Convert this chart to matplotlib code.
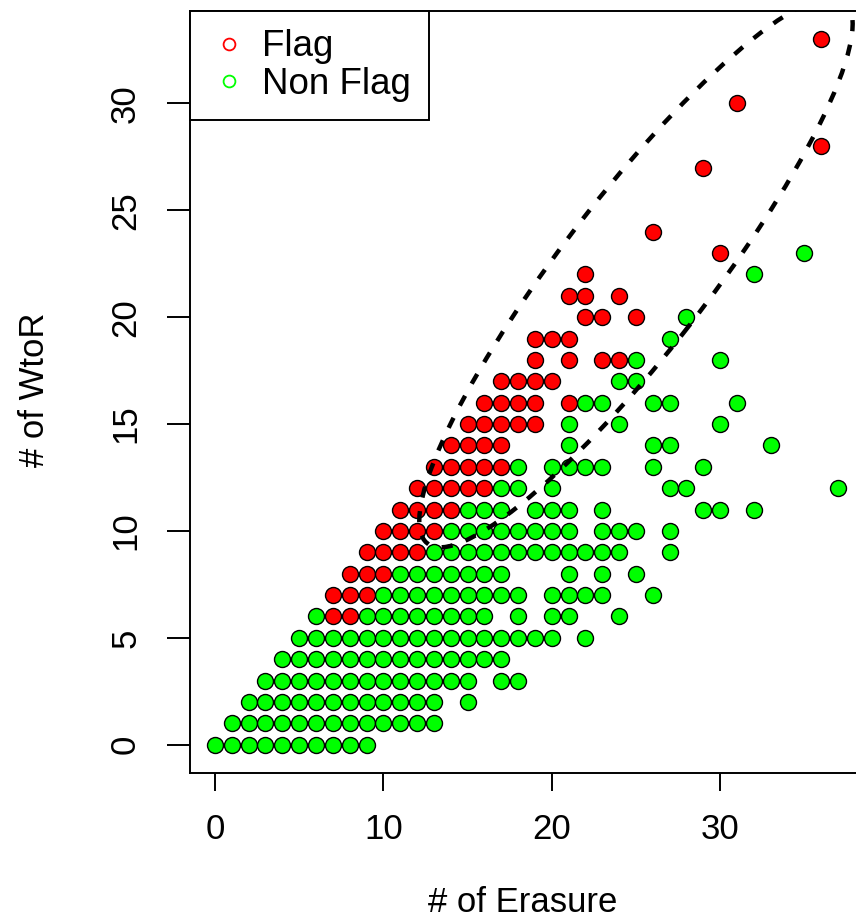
import matplotlib
matplotlib.use("Agg")
import matplotlib.pyplot as plt
from matplotlib.patches import Ellipse
from matplotlib.lines import Line2D

plt.rcParams['font.family'] = ['Liberation Sans', 'DejaVu Sans']

# "# of Erasure" values for every "# of WtoR" row
flag_rows = {
    6: [7, 8],
    7: [7, 8, 9],
    8: [8, 9, 10],
    9: [9, 10, 11, 12],
    10: [10, 11, 12, 13],
    11: [11, 12, 13, 14],
    12: [12, 13, 14, 15, 16],
    13: [13, 14, 15, 16, 17],
    14: [14, 15, 16, 17],
    15: [15, 16, 17, 18, 19],
    16: [16, 17, 18, 19, 21],
    17: [17, 18, 19, 20],
    18: [19, 21, 23, 24],
    19: [19, 20, 21],
    20: [22, 23, 25],
    21: [21, 22, 24],
    22: [22],
    23: [30],
    24: [26],
    27: [29],
    28: [36],
    30: [31],
    33: [36],
}

nonflag_rows = {
    0: [0, 1, 2, 3, 4, 5, 6, 7, 8, 9],
    1: [1, 2, 3, 4, 5, 6, 7, 8, 9, 10, 11, 12, 13],
    2: [2, 3, 4, 5, 6, 7, 8, 9, 10, 11, 12, 13, 15],
    3: [3, 4, 5, 6, 7, 8, 9, 10, 11, 12, 13, 14, 15, 17, 18],
    4: [4, 5, 6, 7, 8, 9, 10, 11, 12, 13, 14, 15, 16, 17],
    5: [5, 6, 7, 8, 9, 10, 11, 12, 13, 14, 15, 16, 17, 18, 19, 20, 22],
    6: [6, 9, 10, 11, 12, 13, 14, 15, 16, 18, 20, 21, 24],
    7: [10, 11, 12, 13, 14, 15, 16, 17, 18, 20, 21, 22, 23, 26],
    8: [11, 12, 13, 14, 15, 16, 17, 21, 23, 25],
    9: [13, 14, 15, 16, 17, 18, 19, 20, 21, 22, 23, 24, 27],
    10: [14, 15, 16, 17, 18, 19, 20, 21, 23, 24, 25, 27],
    11: [15, 16, 17, 19, 20, 21, 23, 29, 30, 32],
    12: [17, 18, 20, 27, 28, 37],
    13: [18, 20, 21, 22, 23, 26, 29],
    14: [21, 26, 27, 33],
    15: [21, 24, 30],
    16: [22, 23, 26, 27, 31],
    17: [24, 25],
    18: [25, 30],
    19: [27],
    20: [28],
    22: [32],
    23: [35],
}

# dashed ellipse drawn over the points
ellipse_center = (25.0, 22.1)
ellipse_width = 35.5
ellipse_height = 8.0
ellipse_angle = 45.0


def rows_to_xy(rows):
    xs, ys = [], []
    for y, xlist in rows.items():
        xs += xlist
        ys += [y] * len(xlist)
    return xs, ys


flag_x, flag_y = rows_to_xy(flag_rows)
nonflag_x, nonflag_y = rows_to_xy(nonflag_rows)

fig = plt.figure(figsize=(8.56, 9.17), dpi=100)
ax = fig.add_axes([190 / 856, 1 - 773 / 917, 673 / 856, 762 / 917])

ax.plot(nonflag_x, nonflag_y, 'o', ms=11.5, mfc='#00ff00', mec='black', mew=1.0,
        linestyle='none', zorder=3, clip_on=False)
ax.plot(flag_x, flag_y, 'o', ms=11.5, mfc='#ff0000', mec='black', mew=1.0,
        linestyle='none', zorder=3, clip_on=False)

ell = Ellipse(ellipse_center, ellipse_width, ellipse_height, angle=ellipse_angle,
              fill=False, edgecolor='black', lw=3.2, linestyle=(0, (2.5, 3.1)),
              zorder=4)
ax.add_patch(ell)

ax.set_xlim(-1.48, 38.48)
ax.set_ylim(-1.32, 34.32)
ax.set_xticks([0, 10, 20, 30])
ax.set_yticks([0, 5, 10, 15, 20, 25, 30])
for s in ax.spines.values():
    s.set_linewidth(1.4)
ax.tick_params(axis='x', length=13, width=1.4, pad=15.5, labelsize=25)
ax.tick_params(axis='y', length=16.5, width=1.4, pad=18, labelsize=25, labelrotation=90)
for lab in ax.get_yticklabels():
    lab.set_va('center')

fig.text(523 / 856, 1 - 902 / 917, '# of Erasure', ha='center', va='center', fontsize=25)
fig.text(35 / 856, 1 - 390 / 917, '# of WtoR', ha='center', va='center',
         rotation=90, fontsize=25)

handles = [
    Line2D([], [], marker='o', linestyle='none', ms=8.5, mfc='none', mec='#ff0000', mew=1.3),
    Line2D([], [], marker='o', linestyle='none', ms=8.5, mfc='none', mec='#00ff00', mew=1.3),
]
leg = ax.legend(handles, ['Flag', 'Non Flag'], loc='upper left', borderaxespad=0,
                fontsize=26.5, fancybox=False, edgecolor='black', framealpha=1,
                borderpad=0.5, handlelength=1.1, handletextpad=0.36, labelspacing=0.07)
leg.get_frame().set_linewidth(1.4)
leg.set_zorder(5)

fig.savefig('out.png', dpi=100)
